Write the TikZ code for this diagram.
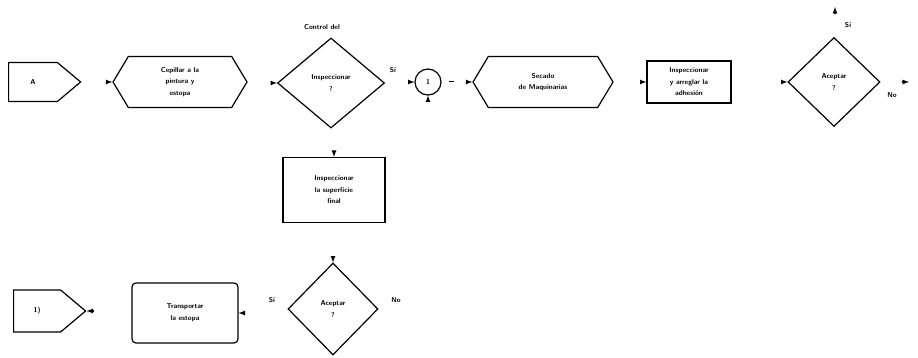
\documentclass[tikz,border=0pt]{standalone}
\usepackage{tikz}
\usetikzlibrary{shapes.geometric, shapes.symbols, arrows}

\begin{document}
\begin{tikzpicture}[%
  x=1pt, y=-1pt,
  every node/.append style={%
    font=\sffamily\bfseries\fontsize{7}{11.5}\selectfont,
    align=center,
    inner sep=0pt,
  },
  tag/.style={draw, line width=1.2pt, shape=signal, signal to=east,
    signal pointer angle=80},
  hexa/.style={draw, line width=1.2pt, shape=signal, signal to=east and west,
    signal pointer angle=118},
  ask/.style={draw, line width=1.2pt, diamond},
  task/.style={draw, line width=1.2pt, rectangle},
  tip/.style={->,>=latex, line width=1.2pt},
  ]
  \useasboundingbox (0,0) rectangle (918,358);
% first row
  \node[tag, anchor=west, minimum width=72, minimum height=39] (A) at (8,82) {A};
  \node[hexa, minimum width=134, minimum height=51] (cepillar) at (180,82)
    {Cepillar a la\\pintura y\\estopa};
  \node[ask, minimum width=107, minimum height=90] (control) at (331,83)
    {Inspeccionar\\?};
  \node (controlT) at (322,27) {Control del};
  \node[draw, line width=1.2pt, circle, minimum size=26] (uno) at (428,82) {1};
  \node[hexa, minimum width=140, minimum height=51] (secado) at (543,82)
    {Secado\\de Maquinarias};
  \node[task, minimum width=84, minimum height=42] (adhesion) at (689,82)
    {Inspeccionar\\y arreglar la\\adhesi\'on};
  \node[ask, minimum width=92, minimum height=89] (aceptar) at (834,82)
    {Aceptar\\?};
  \node[task, minimum width=102, minimum height=65] (final) at (334,190)
    {Inspeccionar\\la superficie\\final};
% second row
  \node[tag, anchor=west, minimum width=72, minimum height=42] (B) at (13,311) {1)};
  \node[task, rounded corners=4pt, minimum width=106, minimum height=60]
    (transporte) at (185,313) {Transportar\\la estopa};
  \node[ask, minimum width=90, minimum height=92] (aceptarB) at (333,309)
    {Aceptar\\?};
% labels
  \node (si1) at (393,70) {S\'i};
  \node (si2) at (848,25) {S\'i};
  \node (no2) at (892,95) {No};
  \node (si3) at (272,300) {S\'i};
  \node (no3) at (396,300) {No};
% free ends
  \coordinate (c1) at (106,82);
  \coordinate (c2) at (271,83);
  \coordinate (c3) at (408,82);
  \coordinate (c4) at (428,102);
  \coordinate (c5) at (466,82);
  \coordinate (c6) at (640,82);
  \coordinate (c7) at (781,82);
  \coordinate (c8) at (334,151);
  \coordinate (c9) at (835,14);
  \coordinate (c10) at (835,7);
  \coordinate (c11) at (902,82);
  \coordinate (c12) at (909,82);
  \coordinate (c13) at (333,256);
  \coordinate (c14) at (245,313);
  \coordinate (c15) at (94,311);
% arrow tips
  \draw[tip] (c1) -- (cepillar.west);
  \draw[tip] (c2) -- (control.west);
  \draw[tip] (c3) -- (uno.west);
  \draw[tip] (c4) -- (uno.south);
  \draw[line width=1pt] (449,82) -- (454,82);
  \draw[tip] (c5) -- (secado.west);
  \draw[tip] (c6) -- (adhesion.west);
  \draw[tip] (c7) -- (aceptar.west);
  \draw[tip] (c8) -- (final.north);
  \draw[tip] (c9) -- (c10);
  \draw[tip] (c11) -- (c12);
  \draw[tip] (c13) -- (aceptarB.north);
  \draw[tip] (c14) -- (transporte.east);
  \draw[tip] (c15) -- (B.east);
\end{tikzpicture}
\end{document}
